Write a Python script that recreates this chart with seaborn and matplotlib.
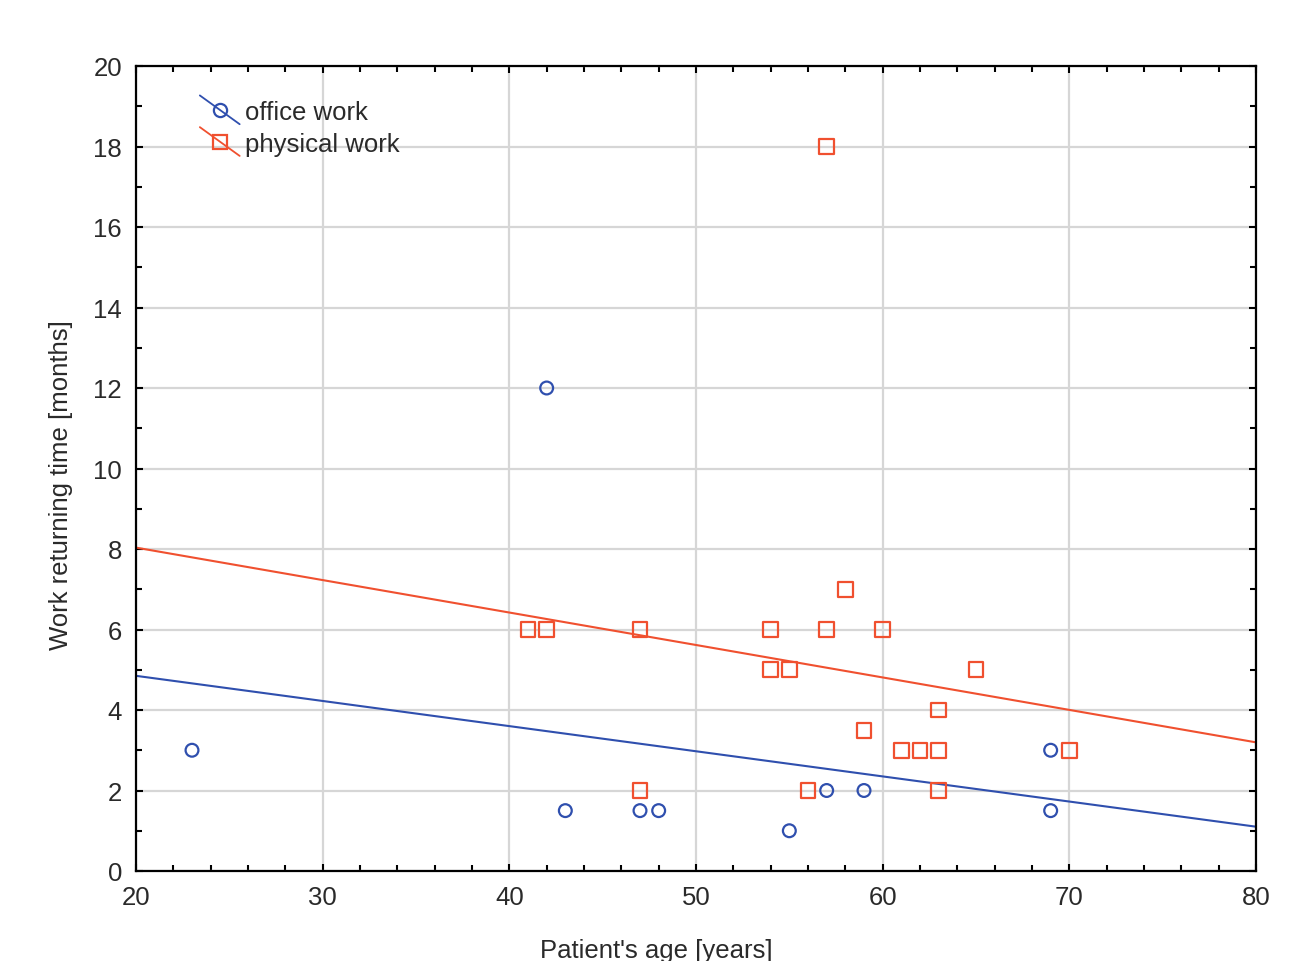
import pandas as pd
import numpy as np
import matplotlib
matplotlib.use("Agg")
import matplotlib.pyplot as plt
import seaborn as sns
from matplotlib.lines import Line2D
from matplotlib.legend_handler import HandlerBase
from matplotlib.ticker import MultipleLocator

# ---- data ----
office_age = [23, 42, 43, 47, 48, 55, 57, 59, 69, 69]
office_months = [3, 12, 1.5, 1.5, 1.5, 1, 2, 2, 3, 1.5]

physical_age = [57, 41, 42, 47, 54, 57, 60, 58, 54, 55, 65, 59, 61, 62, 63, 63, 70, 47, 56, 63]
physical_months = [18, 6, 6, 6, 6, 6, 6, 7, 5, 5, 5, 3.5, 3, 3, 3, 4, 3, 2, 2, 2]

groups = ["office work", "physical work"]

df = pd.DataFrame({
    "age": office_age + physical_age,
    "months": office_months + physical_months,
    "work": [groups[0]] * len(office_age) + [groups[1]] * len(physical_age),
})

BLUE = "#2f4fae"
RED = "#f0502f"
styles = {
    "office work": dict(color=BLUE, marker="o", size=85, legsize=9.5),
    "physical work": dict(color=RED, marker="s", size=115, legsize=10.5),
}

sns.set_style("ticks")
plt.rcParams["font.family"] = ["Liberation Sans", "DejaVu Sans"]

fig = plt.figure(figsize=(12.99, 9.62), dpi=100)
ax = fig.add_axes([136 / 1299, 90 / 962, 1120 / 1299, 805 / 962])
ax.set_xlim(20, 80)
ax.set_ylim(0, 20)

for g in groups:
    st = styles[g]
    sub = df[df["work"] == g]
    sns.regplot(data=sub, x="age", y="months", ax=ax, ci=None, truncate=False,
                marker=st["marker"],
                scatter_kws=dict(s=st["size"], facecolors="none", edgecolors=st["color"],
                                 linewidths=1.6, alpha=1, zorder=3),
                line_kws=dict(color=st["color"], lw=1.5, zorder=2))

ax.set_xlim(20, 80)
ax.set_ylim(0, 20)

# ---- axes / ticks ----
ax.xaxis.set_major_locator(MultipleLocator(10))
ax.xaxis.set_minor_locator(MultipleLocator(2))
ax.yaxis.set_major_locator(MultipleLocator(2))
ax.yaxis.set_minor_locator(MultipleLocator(1))
ax.tick_params(which="both", direction="in", top=True, right=True, color="black",
               labelsize=18.5, labelcolor="#2a2a2a")
ax.tick_params(which="major", length=5, width=1.5, pad=10)
ax.tick_params(which="minor", length=4, width=1.5)
ax.grid(True, which="major", color="#d6d6d6", lw=1.6, zorder=0)
ax.set_axisbelow(True)
for sp in ax.spines.values():
    sp.set_color("black")
    sp.set_linewidth(1.6)

ax.set_xlabel("Patient's age [years]", fontsize=18.5, color="#2a2a2a")
ax.set_ylabel("Work returning time [months]", fontsize=18.5, color="#2a2a2a")
ax.xaxis.set_label_coords(0.465, -0.083)
ax.yaxis.set_label_coords(-0.056, 0.481)


# ---- legend with diagonal line through the marker ----
class DiagHandler(HandlerBase):
    def create_artists(self, legend, orig, xdescent, ydescent, width, height, fontsize, trans):
        c = orig.get_color()
        line = Line2D([0, width], [height * 1.3, -height * 0.3], color=c, lw=1.3)
        mark = Line2D([width * 0.5], [height * 0.5], marker=orig.get_marker(), ls="none",
                      markersize=orig.get_markersize(), markerfacecolor="none",
                      markeredgecolor=c, markeredgewidth=1.6)
        line.set_transform(trans)
        mark.set_transform(trans)
        return [line, mark]


handles = [Line2D([], [], color=styles[g]["color"], marker=styles[g]["marker"],
                  markersize=styles[g]["legsize"]) for g in groups]
leg = ax.legend(handles, groups, loc="upper left", bbox_to_anchor=(0.057, 0.958),
                frameon=False, fontsize=18.5, handlelength=1.55, handletextpad=0.2,
                labelspacing=0.3, borderpad=0, borderaxespad=0,
                handler_map={Line2D: DiagHandler()})
for t in leg.get_texts():
    t.set_color("#2a2a2a")

fig.savefig("out.png", dpi=100)
